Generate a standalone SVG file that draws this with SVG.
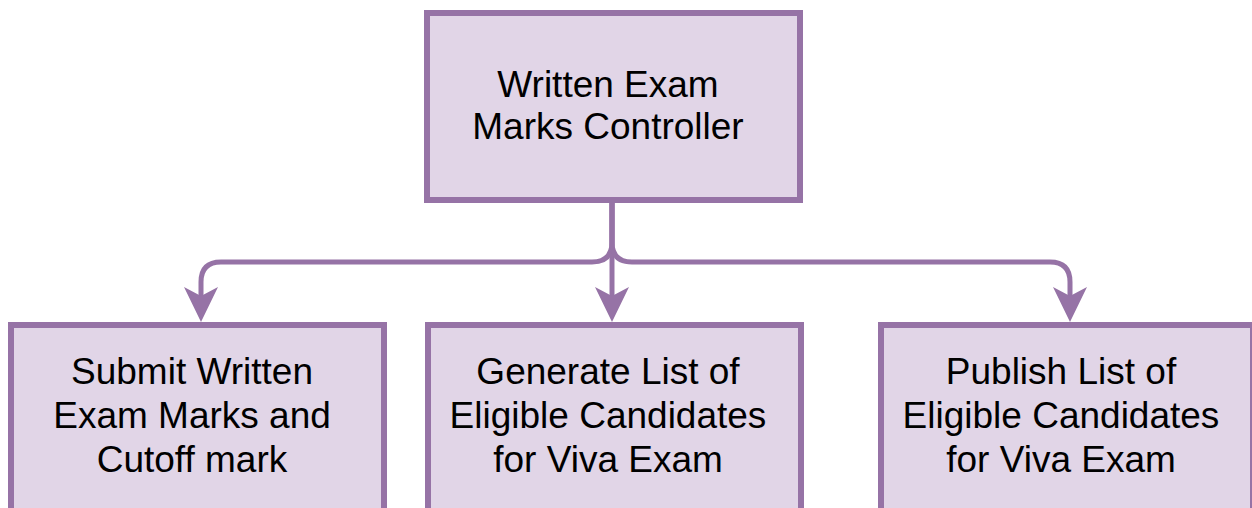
<svg xmlns="http://www.w3.org/2000/svg" width="1252" height="508" viewBox="0 0 1252 508">
  <style>
    .box { fill: #e1d5e7; stroke: #9673a6; stroke-width: 6; }
    .lbl { font-family: "Liberation Sans", Arial, sans-serif; font-size: 37px; fill: #000000; text-anchor: middle; }
    .edge { fill: none; stroke: #9673a6; stroke-width: 5; }
  </style>
  <defs>
    <marker id="arrow" markerUnits="userSpaceOnUse" viewBox="0 -20 40 40" markerWidth="40" markerHeight="40" refX="9" refY="0" orient="auto" overflow="visible">
      <path d="M0,-17 L35,0 L0,17 L9,0 Z" fill="#9673a6" stroke="none"/>
    </marker>
  </defs>
  <rect width="1252" height="508" fill="#ffffff"/>

  <g id="connectors">
    <path class="edge" d="M612,200 L612,242 Q612,262 592,262 L221,262 Q201,262 201,282 L201,296" marker-end="url(#arrow)"/>
    <path class="edge" d="M612,200 L612,296" marker-end="url(#arrow)"/>
    <path class="edge" d="M612,200 L612,242 Q612,262 632,262 L1050,262 Q1070,262 1070,282 L1070,296" marker-end="url(#arrow)"/>
  </g>

  <g id="node-controller">
    <rect class="box" x="427" y="13" width="373" height="187"/>
    <text class="lbl" x="608" y="97">Written Exam</text>
    <text class="lbl" x="608" y="139">Marks Controller</text>
  </g>

  <g id="node-submit">
    <rect class="box" x="11" y="325" width="373" height="187"/>
    <text class="lbl" x="192" y="384">Submit Written</text>
    <text class="lbl" x="192" y="428">Exam Marks and</text>
    <text class="lbl" x="192" y="472">Cutoff mark</text>
  </g>

  <g id="node-generate">
    <rect class="box" x="428" y="325" width="373" height="187"/>
    <text class="lbl" x="608" y="384">Generate List of</text>
    <text class="lbl" x="608" y="428">Eligible Candidates</text>
    <text class="lbl" x="608" y="472">for Viva Exam</text>
  </g>

  <g id="node-publish">
    <rect class="box" x="881" y="325" width="372" height="187"/>
    <text class="lbl" x="1061" y="384">Publish List of</text>
    <text class="lbl" x="1061" y="428">Eligible Candidates</text>
    <text class="lbl" x="1061" y="472">for Viva Exam</text>
  </g>
</svg>
